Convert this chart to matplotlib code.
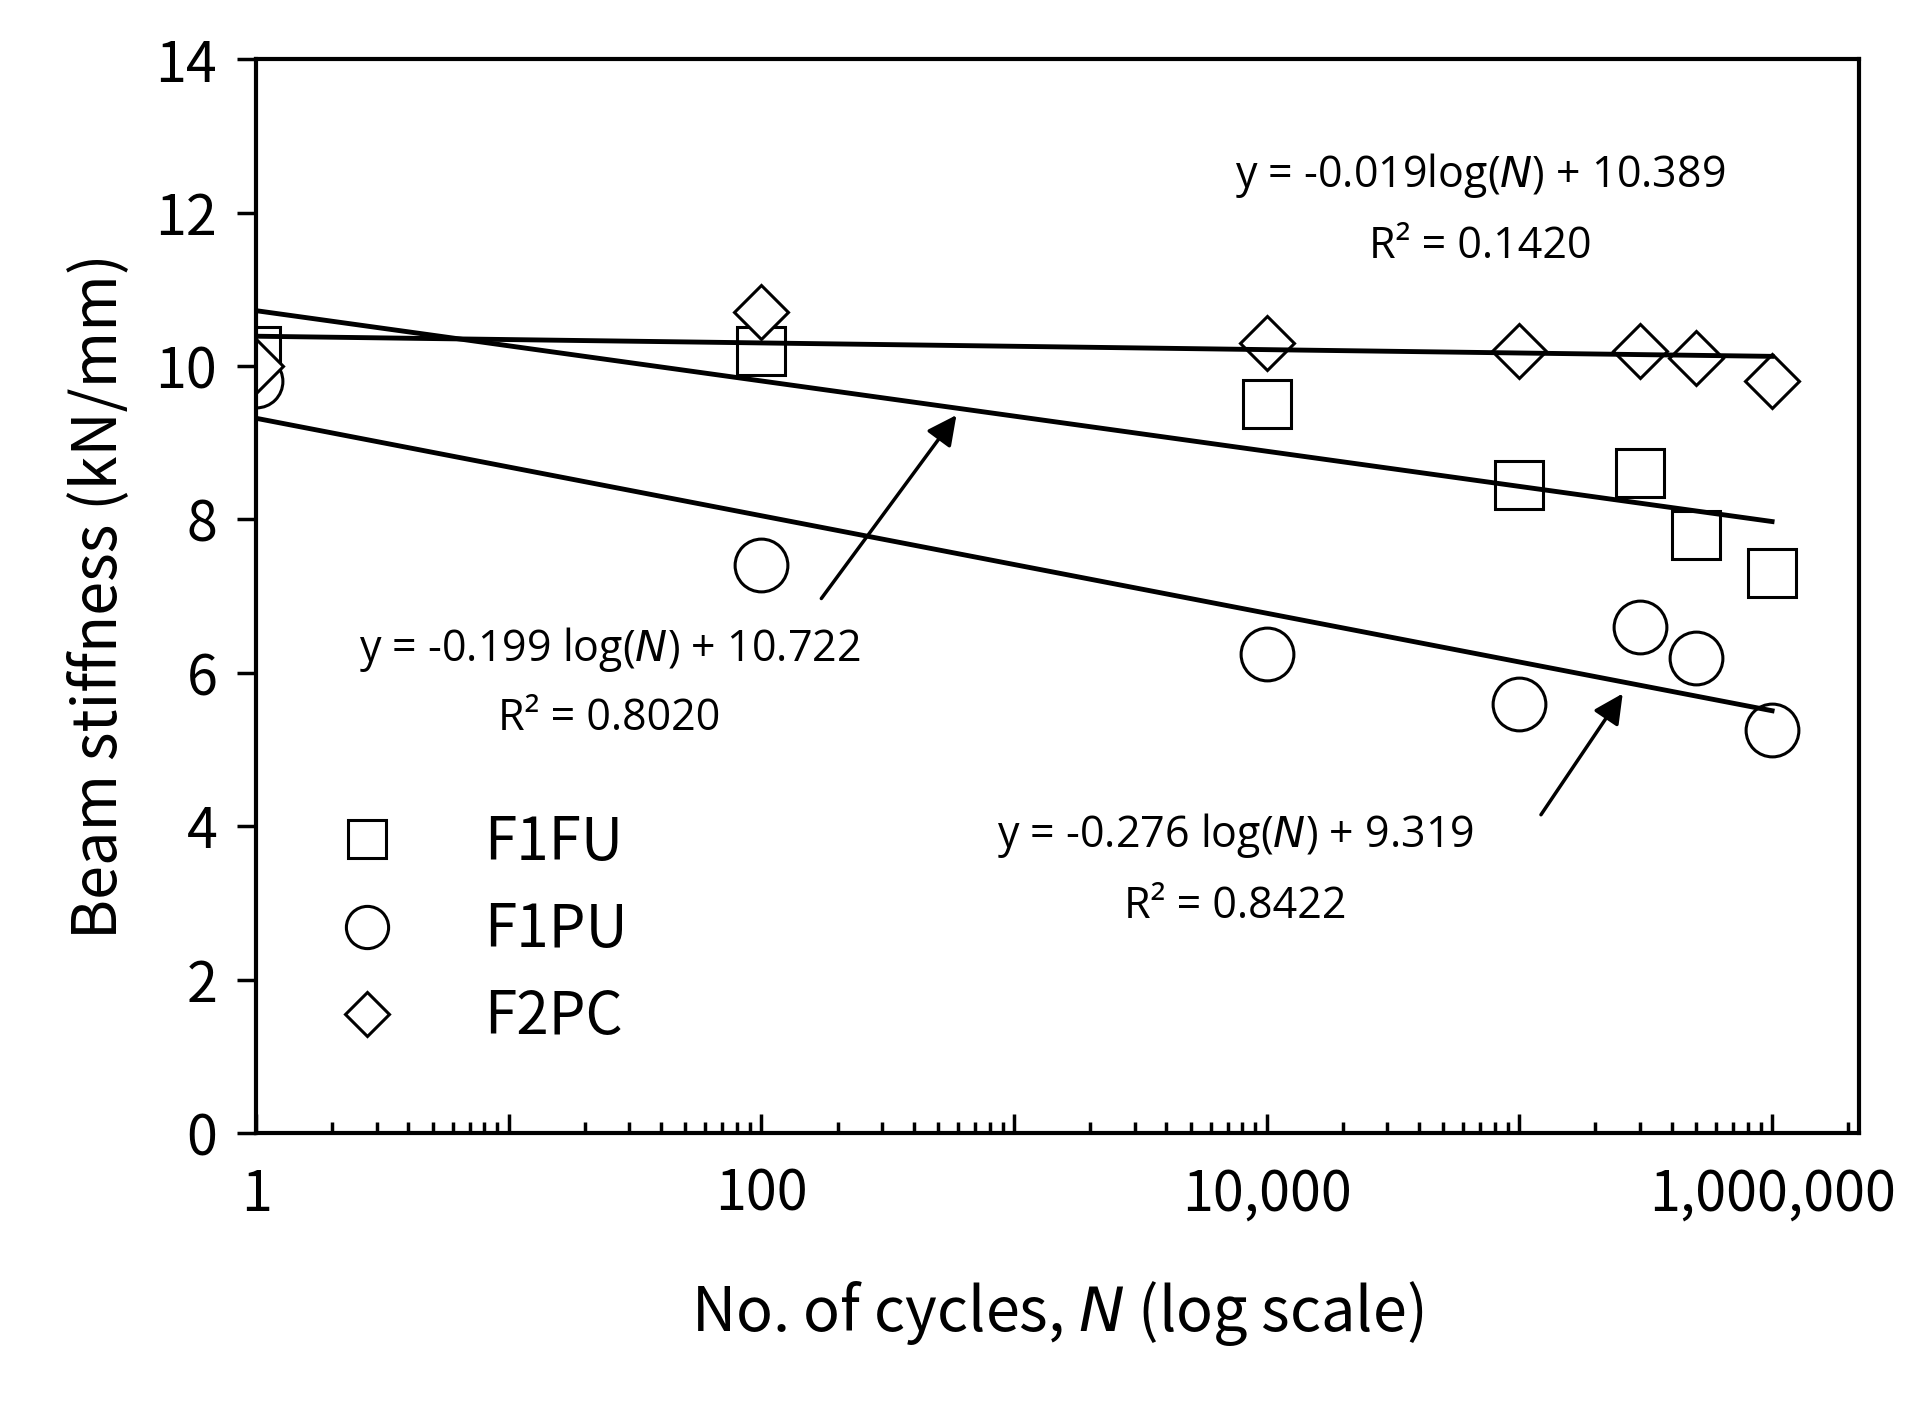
import numpy as np
import matplotlib.pyplot as plt
from matplotlib.ticker import LogLocator, FuncFormatter, NullFormatter

cycles = [1, 100, 10000, 100000, 300000, 500000, 1000000]
f1fu = [10.2, 10.2, 9.5, 8.45, 8.6, 7.8, 7.3]
f1pu = [9.8, 7.4, 6.25, 5.6, 6.6, 6.2, 5.25]
f2pc = [10.0, 10.7, 10.3, 10.2, 10.2, 10.1, 9.8]

# fitted trends: y = a*ln(N) + b
fits = {'F1FU': (-0.199, 10.722), 'F1PU': (-0.276, 9.319), 'F2PC': (-0.019, 10.389)}

jp = ['Noto Sans CJK JP', 'DejaVu Sans']
ann = ['Open Sans', 'DejaVu Sans']

fig = plt.figure(figsize=(19.26, 14.11), dpi=100)
ax = fig.add_axes([0.133, 0.197, 0.832, 0.761])

kw = dict(linestyle='none', markerfacecolor='white', markeredgecolor='black', markeredgewidth=2.2)
ax.plot(cycles, f1fu, marker='s', markersize=34, label='F1FU', **kw)
ax.plot(cycles, f1pu, marker='o', markersize=38, label='F1PU', **kw)
ax.plot(cycles, f2pc, marker='D', markersize=28, label='F2PC', **kw)

nn = np.array([1, 1e6])
for a, b in fits.values():
    ax.plot(nn, a * np.log(nn) + b, color='black', linewidth=3.5)

ax.set_xscale('log')
ax.set_xlim(1, 2.2e6)
ax.set_ylim(0, 14)
ax.set_yticks(range(0, 15, 2))
ax.xaxis.set_major_locator(LogLocator(base=10, numticks=10))
ax.xaxis.set_major_formatter(FuncFormatter(
    lambda v, p: f'{int(round(v)):,}' if round(np.log10(v)) % 2 == 0 else ''))
ax.xaxis.set_minor_locator(LogLocator(base=10, subs=np.arange(2, 10), numticks=20))
ax.xaxis.set_minor_formatter(NullFormatter())
ax.tick_params(which='both', direction='in', width=2.5)
ax.tick_params(which='major', length=14, labelsize=40, pad=24)
ax.tick_params(which='minor', length=8)
ax.tick_params(axis='y', direction='out', length=14, pad=14)
for lab in ax.get_xticklabels() + ax.get_yticklabels():
    lab.set_family(jp)
for s in ax.spines.values():
    s.set_linewidth(3)

ax.set_xlabel('No. of cycles, $\\mathit{N}$ (log scale)', fontsize=44, family=jp, labelpad=40)
ax.set_ylabel('Beam stiffness (kN/mm)', fontsize=44, family=jp, labelpad=18)

tk = dict(fontsize=31, family=ann, ha='center', va='center')
ax.text(70000, 12.48, 'y = -0.019log($\\mathit{N}$) + 10.389', **tk)
ax.text(70000, 11.56, 'R² = 0.1420', **tk)
ax.text(25, 6.3, 'y = -0.199 log($\\mathit{N}$) + 10.722', **tk)
ax.text(25, 5.4, 'R² = 0.8020', **tk)
ax.text(7500, 3.88, 'y = -0.276 log($\\mathit{N}$) + 9.319', **tk)
ax.text(7500, 2.95, 'R² = 0.8422', **tk)

ap = dict(arrowstyle='-|>', color='black', lw=2.5, mutation_scale=45)
ax.annotate('', xy=(600, 9.39), xytext=(170, 6.94), arrowprops=ap)
ax.annotate('', xy=(260000, 5.76), xytext=(120000, 4.12), arrowprops=ap)

leg = ax.legend(loc='lower left', bbox_to_anchor=(0.0, 0.03), frameon=False,
                prop={'family': jp, 'size': 42}, markerscale=0.8,
                handletextpad=1.0, labelspacing=0.45)

fig.savefig('out.png', dpi=100)
